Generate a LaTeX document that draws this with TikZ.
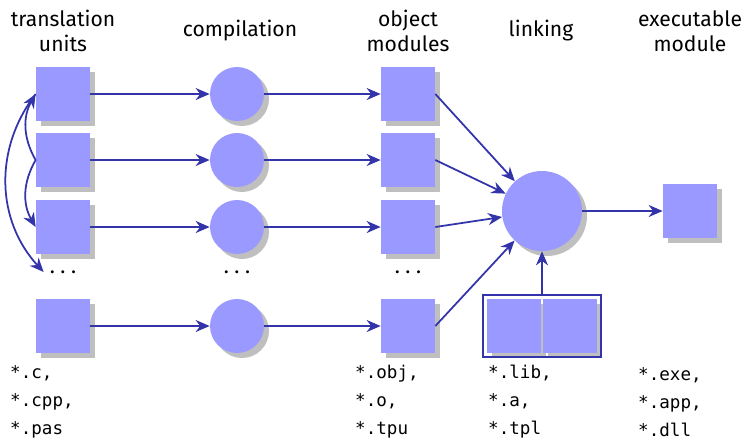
\documentclass[tikz,border=0pt]{standalone}
\usepackage{fontspec}
\setmainfont{Fira Sans}
\setmonofont{DejaVu Sans Mono}
\usetikzlibrary{arrows.meta,shadows,fit}

\definecolor{unitfill}{RGB}{153,153,255}
\definecolor{flowblue}{RGB}{51,51,170}

\begin{document}
\begin{tikzpicture}[
  x=0.02cm,
  y=-0.02cm,
  module/.style={
    fill=unitfill,
    minimum size=1.08cm,
    inner sep=0pt,
    drop shadow={shadow xshift=0.1cm,shadow yshift=-0.1cm,opacity=1,fill=black!25}
  },
  stage/.style={
    module,
    circle,
    minimum size=1.08cm
  },
  linker/.style={
    module,
    circle,
    minimum size=1.6cm
  },
  title/.style={
    align=center,
    font=\fontsize{12}{14}\selectfont
  },
  gap/.style={
    font=\fontsize{12}{14}\selectfont
  },
  suffixes/.style={
    align=left,
    anchor=west,
    font=\ttfamily\fontsize{10}{15.9}\selectfont
  },
  arrow/.style={
    -{Stealth[length=2.8mm,width=2.4mm,inset=0.9mm]},
    draw=flowblue,
    line width=1pt
  }
]
\useasboundingbox (0,0) rectangle (745,441);

% column titles
\node[title] (tunits) at (63,31) {translation\\units};
\node[title] (tcomp) at (240,31) {compilation};
\node[title] (tobj) at (408,31) {object\\modules};
\node[title] (tlink) at (541,31) {linking};
\node[title] (texe) at (690,31) {executable\\module};

% translation units
\node[module] (src1) at (63,94) {};
\node[module] (src2) at (63,160) {};
\node[module] (src3) at (63,227) {};
\node[gap] (srcdots) at (63,272) {.\ .\ .};
\node[module] (src4) at (63,326) {};

% compilation
\node[stage] (cc1) at (237,94) {};
\node[stage] (cc2) at (237,160) {};
\node[stage] (cc3) at (237,227) {};
\node[gap] (ccdots) at (237,272) {.\ .\ .};
\node[stage] (cc4) at (237,326) {};

% object modules
\node[module] (obj1) at (408,94) {};
\node[module] (obj2) at (408,160) {};
\node[module] (obj3) at (408,227) {};
\node[gap] (objdots) at (408,272) {.\ .\ .};
\node[module] (obj4) at (408,326) {};

% linking, libraries, result
\node[linker] (link) at (542,211) {};
\node[module] (lib1) at (514,326) {};
\node[module] (lib2) at (570,326) {};
\node[draw=flowblue,line width=1.2pt,inner sep=2pt,fit=(lib1)(lib2)] (libs) {};
\node[module] (exe) at (690,211) {};

% file suffixes
\node[suffixes] (srcext) at (4,402) {*.c,\\*.cpp,\\*.pas};
\node[suffixes] (objext) at (349,402) {*.obj,\\*.o,\\*.tpu};
\node[suffixes] (libext) at (482,402) {*.lib,\\*.a,\\*.tpl};
\node[suffixes] (exeext) at (632,402) {*.exe,\\*.app,\\*.dll};

\foreach \i in {1,...,4} {
  \draw[arrow] (src\i) -- (cc\i);
  \draw[arrow] (cc\i) -- (obj\i);
  \draw[arrow] (obj\i.east) -- (link);
}
\draw[arrow] (libs) -- (link);
\draw[arrow] (link) -- (exe);

% dependencies between units
\draw[arrow] (src2.west) to[bend left=30] (src1.west);
\draw[arrow] (src2.west) to[bend right=30] (src3.west);
\draw[arrow] (src1.west) to[bend right=40] (srcdots.west);
\end{tikzpicture}
\end{document}
